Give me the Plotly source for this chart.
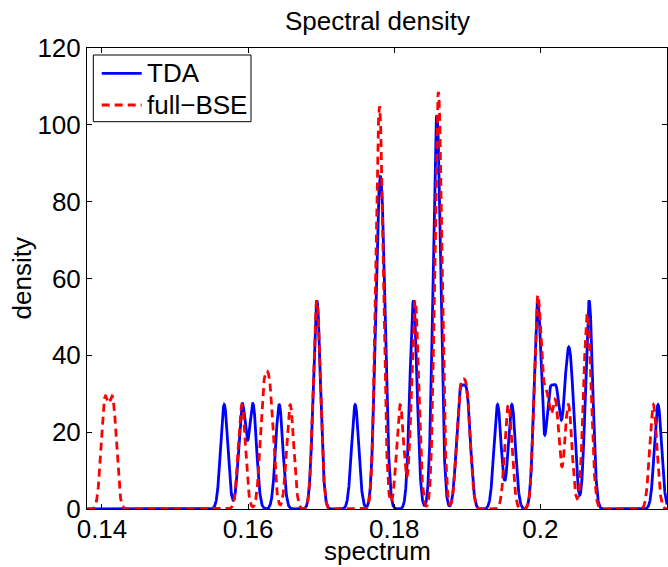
import numpy as np
import plotly.graph_objects as go

# Eigenvalue positions (30 per method); the curves are their
# normalized Gaussian-broadened spectral densities.
tda_eigs = [0.15673, 0.15920, 0.16066, 0.16426, 0.16941, 0.16941, 0.17465,
            0.17777, 0.17777, 0.17843, 0.17843, 0.18263, 0.18263,
            0.18567, 0.18567, 0.18600, 0.18600, 0.18897, 0.18997,
            0.19414, 0.19610, 0.19964, 0.19964, 0.20125, 0.20225,
            0.20355, 0.20425, 0.20667, 0.20667, 0.21610]
bse_eigs = [0.14036, 0.14150, 0.15915, 0.16212, 0.16301, 0.16576, 0.16941, 0.16941,
            0.17785, 0.17785, 0.17811, 0.17811, 0.18081, 0.18286, 0.18286,
            0.18605, 0.18605, 0.18605, 0.18605, 0.18900, 0.18995,
            0.19562, 0.19964, 0.19964, 0.20085, 0.20208, 0.20383,
            0.20626, 0.20661, 0.21546]
sigma = 0.00049
x_range = [0.13795, 0.21733]
y_range = [0, 120]
x_ticks = [0.14, 0.16, 0.18, 0.2]
x_ticktext = ["0.14", "0.16", "0.18", "0.2"]
y_ticks = [0, 20, 40, 60, 80, 100, 120]
series_names = ["TDA", "full\u2212BSE"]

xs = np.linspace(x_range[0], x_range[1], 5000)


def density(eigs):
    e = np.asarray(eigs)[:, None]
    g = np.exp(-(xs[None, :] - e) ** 2 / (2 * sigma ** 2)) / (sigma * np.sqrt(2 * np.pi))
    return g.sum(axis=0) / len(eigs)


FONT = "Liberation Sans, Arial, Helvetica, sans-serif"
FS = 26
W, H = 668, 567
L, R, T, B = 87, 1, 48, 58
PW, PH = W - L - R, H - T - B


def px(xp):  # pixel x -> paper x
    return (xp - L) / PW


def py(yp):  # pixel y -> paper y
    return (H - B - yp) / PH


fig = go.Figure()
fig.add_trace(go.Scatter(x=xs, y=density(tda_eigs), mode="lines", name=series_names[0],
                         line=dict(color="#0000ff", width=2.8), showlegend=False))
fig.add_trace(go.Scatter(x=xs, y=density(bse_eigs), mode="lines", name=series_names[1],
                         line=dict(color="#ff0000", width=2.8, dash="8px,5px"),
                         showlegend=False))

axis_common = dict(showgrid=False, zeroline=False, showline=True, linecolor="black",
                   linewidth=1, mirror="ticks", ticks="inside", ticklen=5,
                   tickcolor="black", tickfont=dict(family=FONT, size=FS, color="black"))

shapes = [
    # legend box
    dict(type="rect", xref="paper", yref="paper", x0=px(93.3), x1=px(251),
         y0=py(121.7), y1=py(55), line=dict(color="black", width=1),
         fillcolor="white", layer="above"),
    dict(type="line", xref="paper", yref="paper", x0=px(101.7), x1=px(141.7),
         y0=py(73.3), y1=py(73.3), line=dict(color="#0000ff", width=2.8), layer="above"),
    dict(type="line", xref="paper", yref="paper", x0=px(101.7), x1=px(141.7),
         y0=py(105), y1=py(105), line=dict(color="#ff0000", width=2.8, dash="8px,5px"),
         layer="above"),
]

annotations = [
    dict(text=series_names[0], xref="paper", yref="paper", x=px(145), y=py(73.3),
         xanchor="left", yanchor="middle", showarrow=False,
         font=dict(family=FONT, size=FS, color="black")),
    dict(text=series_names[1], xref="paper", yref="paper", x=px(145), y=py(105),
         xanchor="left", yanchor="middle", showarrow=False,
         font=dict(family=FONT, size=FS, color="black")),
    dict(text="Spectral density", xref="paper", yref="paper", x=0.5, y=py(21),
         xanchor="center", yanchor="middle", showarrow=False,
         font=dict(family=FONT, size=FS, color="black")),
    dict(text="spectrum", xref="paper", yref="paper", x=0.5, y=py(551),
         xanchor="center", yanchor="middle", showarrow=False,
         font=dict(family=FONT, size=FS, color="black")),
    dict(text="density", xref="paper", yref="paper", x=px(21), y=0.5,
         xanchor="center", yanchor="middle", textangle=-90, showarrow=False,
         font=dict(family=FONT, size=FS, color="black")),
]

fig.update_layout(
    width=W, height=H,
    margin=dict(l=L, r=R, t=T, b=B),
    paper_bgcolor="white", plot_bgcolor="white",
    xaxis=dict(range=x_range, tickvals=x_ticks, ticktext=x_ticktext,
               ticklabelstandoff=-3, **axis_common),
    yaxis=dict(range=y_range, tickvals=y_ticks, **axis_common),
    shapes=shapes,
    annotations=annotations,
    showlegend=False,
)

fig.write_html(
    "out.html",
    config={"displayModeBar": False},
    post_script="document.body.style.margin='0';document.body.style.overflow='hidden';",
)
